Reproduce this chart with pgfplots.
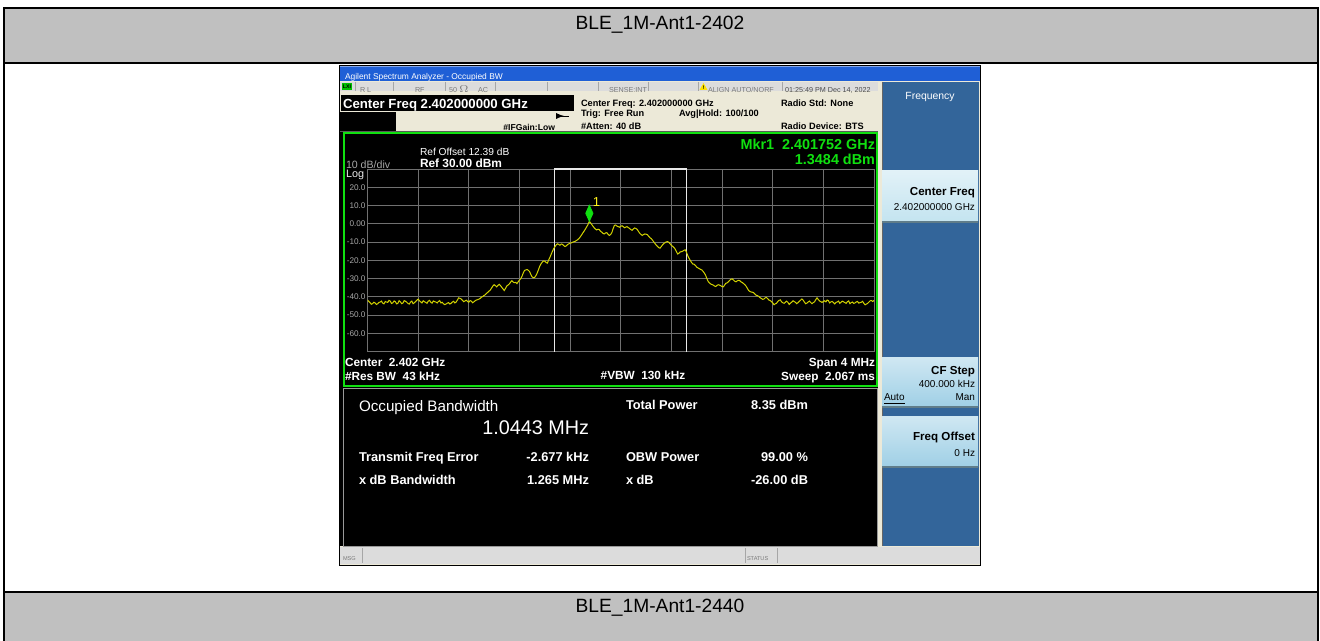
\documentclass[border=0pt]{standalone}
\usepackage{pgfplots}
\pgfplotsset{compat=1.18}
\usepackage{fontspec}
\setmainfont{Liberation Sans}
\newcommand\fs[1]{\fontsize{#1}{#1}\selectfont}
\definecolor{tblgray}{HTML}{C0C0C0}
\definecolor{titleblue}{HTML}{1F5FD6}
\definecolor{panelblue}{HTML}{33659A}
\definecolor{btnlight}{HTML}{C4E4F0}
\definecolor{btn}{HTML}{A0D0E6}
\definecolor{beige}{HTML}{ECE9D8}
\definecolor{statgray}{HTML}{DCDCDC}
\definecolor{scrgreen}{HTML}{10E010}
\definecolor{tracec}{HTML}{D2D200}
\definecolor{gridc}{HTML}{707070}
\definecolor{lgray}{HTML}{A8A8A8}
\definecolor{stxt}{HTML}{7A7A7A}
\begin{document}
\begin{tikzpicture}
\begin{scope}[x=0.5pt,y=-0.5pt, t/.style={inner sep=0pt,outer sep=0pt}]
\useasboundingbox (0,0) rectangle (1320,641);
\clip (0,0) rectangle (1320,641);
\fill[white] (0,0) rectangle (1320,641);
% table
\fill[tblgray] (4,8) rectangle (1318,63);
\fill[tblgray] (4,592) rectangle (1318,660);
\draw[line width=1.15pt] (4,8) rectangle (1318,700);
\draw[line width=1.15pt] (4,63) -- (1318,63);
\draw[line width=1.15pt] (4,592) -- (1318,592);
\node[t,font=\fs{9.6}] at (660,25) {BLE\_1M-Ant1-2402};
\node[t,font=\fs{9.6}] at (660,608) {BLE\_1M-Ant1-2440};
% screenshot frame
\fill[black] (339,65) rectangle (981,566);
\fill[beige] (340,66) rectangle (980,565);
% title bar
\fill[titleblue] (340,66) rectangle (980,81.5);
\fill[titleblue!55!white] (340,66) rectangle (980,67.5);
\node[t,anchor=mid west,white,font=\fs{4.2}] at (345,74) {Agilent Spectrum Analyzer - Occupied BW};
% status row
\fill[statgray] (340,82) rectangle (878,91);
\foreach \xx in {355,393,445,495,547,598,648,698,782} {\draw[gray!70,line width=0.4pt] (\xx,82) -- (\xx,91);}
\fill[green!75!black] (342,83) rectangle (352,90);
\node[t,font=\fs{2.6}\bfseries,black] at (347,86.5) {LXI};
\node[t,anchor=mid west,stxt,font=\fs{3.6}] at (360,87) {R L};
\node[t,anchor=mid west,stxt,font=\fs{3.6}] at (415,87) {RF};
\node[t,anchor=mid west,stxt,font=\fs{3.6}] at (449,87) {50 $\Omega$};
\node[t,anchor=mid west,stxt,font=\fs{3.6}] at (478,87) {AC};
\node[t,anchor=mid west,stxt,font=\fs{3.6}] at (609,87) {SENSE:INT};
\fill[yellow!85!orange] (699.5,90) -- (703.5,83) -- (707.5,90) -- cycle;
\node[t,font=\fs{2.6}\bfseries] at (703.5,87.5) {!};
\node[t,anchor=mid west,stxt,font=\fs{3.6}] at (708,87) {ALIGN AUTO/NORF};
\node[t,anchor=mid west,black!70,font=\fs{3.6}] at (785,87) {01:25:49 PM Dec 14, 2022};
% header area
\fill[black] (341,95) rectangle (574,111);
\node[t,anchor=mid west,white,font=\fs{6.6}\bfseries] at (343,103) {Center Freq 2.402000000 GHz};
\fill[black] (340,112) rectangle (396,131);
\draw[black,line width=0.4pt] (557,116) -- (569,116);
\draw[black,-latex,line width=0.4pt] (557,116) -- (564,116);
\node[t,anchor=mid east,black,font=\fs{4.3}\bfseries] at (555,125.5) {\#IFGain:Low};
\node[t,anchor=mid west,black,font=\fs{4.6}\bfseries] at (581,101) {Center Freq: 2.402000000 GHz};
\node[t,anchor=mid west,black,font=\fs{4.6}\bfseries] at (581,111.5) {Trig: Free Run};
\node[t,anchor=mid west,black,font=\fs{4.6}\bfseries] at (679,111.5) {Avg|Hold: 100/100};
\node[t,anchor=mid west,black,font=\fs{4.6}\bfseries] at (581,124.5) {\#Atten: 40 dB};
\node[t,anchor=mid west,black,font=\fs{4.6}\bfseries] at (781,101) {Radio Std: None};
\node[t,anchor=mid west,black,font=\fs{4.6}\bfseries] at (781,124.5) {Radio Device: BTS};
\fill[black!65] (340,131) rectangle (878,132.5);
% main black area
\fill[black] (340,132.5) rectangle (878,546);
\draw[scrgreen,line width=1pt] (344,133.5) rectangle (877,386);
\draw[gray!80,line width=0.5pt] (343,388) rectangle (877,546);
% right panel
\fill[beige] (878,82) rectangle (882,547);
\fill[panelblue] (882,82) rectangle (979,546);
\draw[black!60,line width=0.4pt] (882,82) -- (882,546);
\node[t,white,font=\fs{5.2}] at (930,97) {Frequency};
\shade[top color=btnlight!50!white, bottom color=btnlight] (882,171) rectangle (978,221);
\fill[btn!60!black] (882,221) rectangle (978,223);
\shade[top color=btn!50!white, bottom color=btn] (882,357) rectangle (978,406);
\fill[btn!60!black] (882,406) rectangle (978,408);
\shade[top color=btn!50!white, bottom color=btn] (882,416) rectangle (978,466);
\fill[btn!60!black] (882,466) rectangle (978,468);
\node[t,anchor=mid east,font=\fs{5.8}\bfseries] at (975,190) {Center Freq};
\node[t,anchor=mid east,font=\fs{5.0}] at (975,205) {2.402000000 GHz};
\node[t,anchor=mid east,font=\fs{5.8}\bfseries] at (975,369) {CF Step};
\node[t,anchor=mid east,font=\fs{5.0}] at (975,382) {400.000 kHz};
\node[t,anchor=mid west,font=\fs{5.0}] at (884,395) {\underline{Auto}};
\node[t,anchor=mid east,font=\fs{5.0}] at (975,395) {Man};
\node[t,anchor=mid east,font=\fs{5.8}\bfseries] at (975,435) {Freq Offset};
\node[t,anchor=mid east,font=\fs{5.0}] at (975,451) {0 Hz};
% bottom status bar
\fill[statgray] (340,547) rectangle (980,564);
\draw[gray!70,line width=0.4pt] (362,548) -- (362,563) (745,548) -- (745,563) (777,548) -- (777,563);
\node[t,anchor=mid west,stxt,font=\fs{2.8}] at (343,555) {MSG};
\node[t,anchor=mid west,stxt,font=\fs{2.8}] at (747,555) {STATUS};
% texts inside plot frame
\node[t,anchor=mid west,white,font=\fs{5.1}] at (420,150.5) {Ref Offset 12.39 dB};
\node[t,anchor=mid west,lgray,font=\fs{5.3}] at (346,163) {10 dB/div};
\node[t,anchor=mid west,white,font=\fs{5.95}\bfseries] at (420,162) {Ref 30.00 dBm};
\node[t,anchor=mid west,white!85!gray,font=\fs{5.4}] at (346,172) {Log};
\node[t,anchor=mid east,scrgreen,font=\fs{7.2}\bfseries] at (875,144) {Mkr1\ \ 2.401752 GHz};
\node[t,anchor=mid east,scrgreen,font=\fs{7.2}\bfseries] at (875,159) {1.3484 dBm};
\node[t,anchor=mid west,white,font=\fs{5.9}\bfseries] at (345,361) {Center\ \ 2.402 GHz};
\node[t,anchor=mid west,white,font=\fs{5.9}\bfseries] at (345,375) {\#Res BW\ \ 43 kHz};
\node[t,white,font=\fs{5.9}\bfseries] at (643,375) {\#VBW\ \ 130 kHz};
\node[t,anchor=mid east,white,font=\fs{5.9}\bfseries] at (875,361) {Span 4 MHz};
\node[t,anchor=mid east,white,font=\fs{5.9}\bfseries] at (875,375) {Sweep\ \ 2.067 ms};
% results
\node[t,anchor=mid west,white,font=\fs{7.6}] at (359,406) {Occupied Bandwidth};
\node[t,anchor=mid east,white,font=\fs{9.9}] at (589,429) {1.0443 MHz};
\node[t,anchor=mid west,white,font=\fs{6.4}\bfseries] at (626,404) {Total Power};
\node[t,anchor=mid east,white,font=\fs{6.4}\bfseries] at (808,404) {8.35 dBm};
\node[t,anchor=mid west,white,font=\fs{6.4}\bfseries] at (359,456) {Transmit Freq Error};
\node[t,anchor=mid east,white,font=\fs{6.4}\bfseries] at (589,456) {-2.677 kHz};
\node[t,anchor=mid west,white,font=\fs{6.4}\bfseries] at (626,456) {OBW Power};
\node[t,anchor=mid east,white,font=\fs{6.4}\bfseries] at (808,456) {99.00 \%};
\node[t,anchor=mid west,white,font=\fs{6.4}\bfseries] at (359,479) {x dB Bandwidth};
\node[t,anchor=mid east,white,font=\fs{6.4}\bfseries] at (589,479) {1.265 MHz};
\node[t,anchor=mid west,white,font=\fs{6.4}\bfseries] at (626,479) {x dB};
\node[t,anchor=mid east,white,font=\fs{6.4}\bfseries] at (808,479) {-26.00 dB};
\end{scope}
% spectrum axis
\begin{axis}[
  at={(183.75pt,-84.5pt)}, anchor=north west, scale only axis,
  width=253.25pt, height=91.25pt,
  xmin=-2, xmax=2, ymin=-70, ymax=30,
  xtick={-1.6,-1.2,-0.8,-0.4,0,0.4,0.8,1.2,1.6}, xticklabels={},
  ytick={-60,-50,-40,-30,-20,-10,0,10,20},
  yticklabels={-60.0,-50.0,-40.0,-30.0,-20.0,-10.0,0.00,10.0,20.0},
  yticklabel style={font=\fs{4.1}, text=lgray, inner sep=0.8pt},
  grid=major, major grid style={draw=gridc, line width=0.35pt},
  major tick length=0pt,
  axis line style={draw=gridc, line width=0.45pt},
  axis background/.style={fill=black},
]
\addplot[draw=white!82!gray, line width=0.6pt] coordinates {(-0.5248,-70) (-0.5248,30) (0.5195,30) (0.5195,-70)};
\addplot[tracec, line width=0.5pt] table {
x y
-2.00 -41.8
-1.99 -42.6
-1.98 -43.2
-1.97 -44.1
-1.96 -43.8
-1.95 -43.0
-1.94 -43.4
-1.93 -44.2
-1.92 -43.9
-1.91 -43.1
-1.90 -42.9
-1.89 -42.4
-1.88 -43.5
-1.87 -43.9
-1.86 -42.6
-1.85 -42.9
-1.84 -43.1
-1.83 -42.0
-1.82 -42.4
-1.81 -43.7
-1.80 -43.3
-1.79 -42.3
-1.78 -42.7
-1.77 -43.9
-1.76 -43.6
-1.75 -42.2
-1.74 -42.8
-1.73 -43.8
-1.72 -43.4
-1.71 -42.1
-1.70 -42.5
-1.69 -43.0
-1.68 -43.7
-1.67 -44.0
-1.66 -42.9
-1.65 -42.4
-1.64 -43.8
-1.63 -43.3
-1.62 -42.6
-1.61 -41.9
-1.60 -41.3
-1.59 -42.2
-1.58 -42.8
-1.57 -43.4
-1.56 -42.2
-1.55 -42.7
-1.54 -43.1
-1.53 -43.6
-1.52 -42.4
-1.51 -42.0
-1.50 -43.0
-1.49 -43.5
-1.48 -42.3
-1.47 -42.7
-1.46 -42.9
-1.45 -43.4
-1.44 -42.6
-1.43 -42.1
-1.42 -43.4
-1.41 -43.0
-1.40 -43.9
-1.39 -44.3
-1.38 -44.0
-1.37 -43.5
-1.36 -43.2
-1.35 -44.0
-1.34 -43.6
-1.33 -42.9
-1.32 -42.5
-1.31 -43.4
-1.30 -42.9
-1.29 -41.8
-1.28 -40.6
-1.27 -40.9
-1.26 -41.2
-1.25 -42.0
-1.24 -42.7
-1.23 -42.3
-1.22 -41.9
-1.21 -42.6
-1.20 -43.0
-1.19 -42.1
-1.18 -42.4
-1.17 -43.3
-1.16 -42.8
-1.15 -42.2
-1.14 -41.8
-1.13 -41.6
-1.12 -41.3
-1.11 -40.9
-1.10 -40.2
-1.09 -39.9
-1.08 -39.3
-1.07 -38.9
-1.06 -38.1
-1.05 -37.6
-1.04 -36.9
-1.03 -36.3
-1.02 -35.2
-1.01 -34.1
-1.00 -33.4
-0.99 -33.9
-0.98 -34.6
-0.97 -33.8
-0.96 -33.2
-0.95 -33.9
-0.94 -34.8
-0.93 -35.7
-0.92 -36.6
-0.91 -35.4
-0.90 -34.1
-0.89 -33.6
-0.88 -33.0
-0.87 -32.0
-0.86 -31.2
-0.85 -31.9
-0.84 -32.3
-0.83 -32.1
-0.82 -32.8
-0.81 -31.8
-0.80 -30.9
-0.79 -30.1
-0.78 -28.8
-0.77 -27.0
-0.76 -25.6
-0.75 -25.3
-0.74 -25.1
-0.73 -25.5
-0.72 -26.2
-0.71 -27.8
-0.70 -29.1
-0.69 -29.6
-0.68 -29.4
-0.67 -28.4
-0.66 -27.0
-0.65 -25.2
-0.64 -23.3
-0.63 -22.0
-0.62 -21.0
-0.61 -20.4
-0.60 -20.5
-0.59 -21.2
-0.58 -21.6
-0.57 -20.0
-0.56 -18.5
-0.55 -16.8
-0.54 -15.2
-0.53 -13.7
-0.52 -12.6
-0.51 -11.6
-0.50 -11.0
-0.49 -11.3
-0.48 -11.8
-0.47 -11.1
-0.46 -11.3
-0.45 -12.0
-0.44 -12.5
-0.43 -12.1
-0.42 -11.4
-0.41 -11.0
-0.40 -10.6
-0.39 -10.5
-0.38 -10.1
-0.37 -9.9
-0.36 -9.6
-0.35 -9.2
-0.34 -8.7
-0.33 -8.1
-0.32 -7.2
-0.31 -6.2
-0.30 -5.1
-0.29 -4.1
-0.28 -3.0
-0.27 -1.8
-0.26 -0.6
-0.248 1.35
-0.24 0.6
-0.23 -0.3
-0.22 -1.3
-0.21 -2.2
-0.20 -2.9
-0.19 -3.4
-0.18 -3.0
-0.17 -3.2
-0.16 -4.1
-0.15 -4.6
-0.14 -5.3
-0.13 -5.6
-0.12 -5.0
-0.11 -4.9
-0.10 -5.8
-0.09 -6.4
-0.08 -5.9
-0.07 -4.8
-0.06 -2.6
-0.05 -0.9
-0.04 -0.7
-0.03 -1.3
-0.02 -1.6
-0.01 -1.9
0.00 -1.4
0.01 -1.1
0.02 -1.6
0.03 -2.2
0.04 -1.8
0.05 -1.6
0.06 -2.1
0.07 -2.6
0.08 -3.2
0.09 -3.6
0.10 -2.8
0.11 -2.3
0.12 -2.6
0.13 -3.1
0.14 -4.2
0.15 -5.2
0.16 -5.9
0.17 -6.4
0.18 -5.9
0.19 -5.6
0.20 -5.7
0.21 -6.0
0.22 -6.8
0.23 -7.6
0.24 -8.1
0.25 -8.9
0.26 -9.9
0.27 -10.8
0.28 -11.7
0.29 -12.4
0.30 -13.1
0.31 -13.4
0.32 -12.5
0.33 -11.6
0.34 -10.8
0.35 -10.4
0.36 -9.9
0.37 -9.8
0.38 -10.2
0.39 -11.0
0.40 -11.8
0.41 -12.4
0.42 -13.0
0.43 -13.9
0.44 -15.3
0.45 -16.6
0.46 -16.1
0.47 -15.4
0.48 -15.3
0.49 -15.0
0.50 -14.5
0.51 -14.3
0.52 -15.8
0.53 -17.6
0.54 -19.0
0.55 -20.2
0.56 -21.3
0.57 -22.1
0.58 -22.2
0.59 -22.9
0.60 -23.8
0.61 -24.2
0.62 -24.6
0.63 -25.0
0.64 -25.3
0.65 -26.1
0.66 -27.0
0.67 -28.2
0.68 -30.0
0.69 -31.6
0.70 -32.4
0.71 -33.0
0.72 -33.3
0.73 -33.6
0.74 -34.1
0.75 -34.4
0.76 -33.8
0.77 -33.4
0.78 -33.6
0.79 -34.0
0.80 -34.4
0.81 -34.6
0.82 -33.6
0.83 -32.6
0.84 -32.4
0.85 -31.8
0.86 -31.0
0.87 -30.4
0.88 -30.2
0.89 -30.8
0.90 -31.5
0.91 -31.8
0.92 -31.3
0.93 -31.0
0.94 -31.2
0.95 -31.9
0.96 -32.2
0.97 -32.8
0.98 -33.4
0.99 -34.2
1.00 -35.4
1.01 -36.6
1.02 -37.1
1.03 -37.4
1.04 -37.5
1.05 -37.8
1.06 -38.6
1.07 -39.2
1.08 -39.4
1.09 -39.8
1.10 -40.5
1.11 -40.9
1.12 -41.4
1.13 -41.3
1.14 -40.6
1.15 -40.4
1.16 -41.0
1.17 -41.8
1.18 -42.1
1.19 -42.6
1.20 -43.3
1.21 -44.4
1.22 -43.9
1.23 -43.6
1.24 -42.6
1.25 -42.0
1.26 -41.7
1.27 -42.8
1.28 -43.3
1.29 -43.6
1.30 -43.0
1.31 -42.4
1.32 -43.1
1.33 -44.2
1.34 -43.5
1.35 -43.0
1.36 -42.2
1.37 -42.6
1.38 -43.1
1.39 -43.8
1.40 -43.2
1.41 -42.5
1.42 -41.9
1.43 -41.2
1.44 -41.8
1.45 -42.9
1.46 -43.8
1.47 -43.5
1.48 -42.9
1.49 -42.4
1.50 -43.1
1.51 -43.8
1.52 -43.2
1.53 -42.8
1.54 -41.6
1.55 -40.6
1.56 -41.5
1.57 -42.3
1.58 -42.7
1.59 -43.1
1.60 -42.6
1.61 -42.2
1.62 -42.8
1.63 -41.8
1.64 -42.1
1.65 -43.4
1.66 -42.8
1.67 -42.6
1.68 -43.2
1.69 -43.9
1.70 -43.1
1.71 -42.8
1.72 -42.4
1.73 -43.6
1.74 -43.0
1.75 -42.4
1.76 -42.8
1.77 -43.2
1.78 -43.6
1.79 -42.7
1.80 -42.3
1.81 -43.8
1.82 -43.2
1.83 -42.9
1.84 -43.6
1.85 -43.4
1.86 -42.8
1.87 -42.6
1.88 -43.5
1.89 -43.2
1.90 -43.0
1.91 -42.5
1.92 -43.6
1.93 -44.4
1.94 -44.0
1.95 -43.6
1.96 -42.9
1.97 -42.2
1.98 -42.1
1.99 -42.6
2.00 -42.0
};
\addplot[only marks, mark=diamond*, mark size=4pt, color=scrgreen,
  mark options={xscale=0.6, yshift=4pt},
  nodes near coords={1},
  every node near coord/.style={anchor=south west, text=yellow!90!white, font=\fs{6.5}, inner sep=0pt, xshift=1.5pt, yshift=3pt}]
  coordinates {(-0.248,1.35)};
\end{axis}
\end{tikzpicture}
\end{document}
